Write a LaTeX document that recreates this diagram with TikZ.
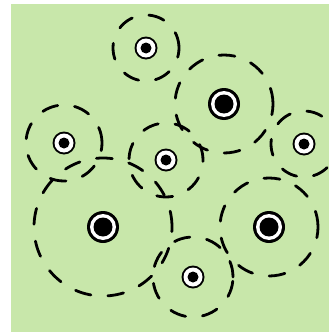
\documentclass[tikz,border=0pt]{standalone}
\definecolor{bggreen}{RGB}{200,231,170}
\tikzset{
  ring/.style={draw=black, line width=2.8pt, line cap=round, dash pattern=on 16pt off 17pt},
  bigdot/.style={circle, inner sep=0pt, minimum size=32pt, fill=black,
    path picture={\fill[white] (path picture bounding box.center) circle (13pt);
                  \fill[black] (path picture bounding box.center) circle (9.5pt);}},
  smalldot/.style={circle, inner sep=0pt, minimum size=23pt, fill=black,
    path picture={\fill[white] (path picture bounding box.center) circle (9.5pt);
                  \fill[black] (path picture bounding box.center) circle (5.5pt);}}
}
\begin{document}
\begin{tikzpicture}[x=1pt,y=-1pt]
\useasboundingbox (0,0) rectangle (329,332);
\fill[white] (0,0) rectangle (329,332);
\fill[bggreen] (11,4) rectangle (329,332);
% dots
\node[smalldot] (a) at (146,48) {};
\node[bigdot]   (b) at (224,104) {};
\node[smalldot] (c) at (64,143) {};
\node[smalldot] (d) at (166,160) {};
\node[smalldot] (e) at (304,144) {};
\node[bigdot]   (f) at (103,227) {};
\node[bigdot]   (g) at (269,227) {};
\node[smalldot] (h) at (193,277) {};
% dashed rings
\draw[ring] (a) circle (33pt);
\draw[ring] (b) circle (49pt);
\draw[ring] (c) circle (38pt);
\draw[ring] (d) circle (37pt);
\draw[ring] (e) circle (33pt);
\draw[ring] (f) circle (69pt);
\draw[ring] (g) circle (49pt);
\draw[ring] (h) circle (40pt);
\end{tikzpicture}
\end{document}
